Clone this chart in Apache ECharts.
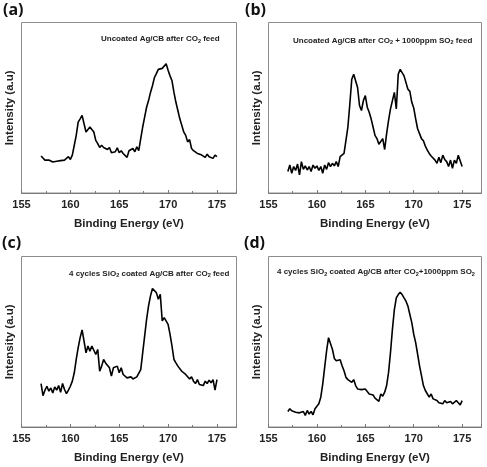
<!DOCTYPE html>
<html>
<head>
<meta charset="utf-8">
<script src="https://cdn.jsdelivr.net/npm/echarts@6/dist/echarts.min.js"></script>
<style>html,body{margin:0;padding:0;background:#fff;}#c{width:487px;height:467px;}</style>
</head>
<body>
<div id="c"></div>
<script>
// Binding energy (eV) sampled points
var energy = [157.0,157.2,157.4,157.6,157.8,158.0,158.2,158.4,158.6,158.8,159.0,159.2,159.4,159.6,159.8,160.0,160.2,160.4,160.6,160.8,161.0,161.2,161.4,161.6,161.8,162.0,162.2,162.4,162.6,162.8,163.0,163.2,163.4,163.6,163.8,164.0,164.2,164.4,164.6,164.8,165.0,165.2,165.4,165.6,165.8,166.0,166.2,166.4,166.6,166.8,167.0,167.2,167.4,167.6,167.8,168.0,168.2,168.4,168.6,168.8,169.0,169.2,169.4,169.6,169.8,170.0,170.2,170.4,170.6,170.8,171.0,171.2,171.4,171.6,171.8,172.0,172.2,172.4,172.6,172.8,173.0,173.2,173.4,173.6,173.8,174.0,174.2,174.4,174.6,174.8,175.0];

// (a) Uncoated Ag/CB after CO2 feed
var intensityA = [21.7,21.3,19.3,19.7,19.3,18.6,18.2,17.4,18.6,18.2,19.0,18.4,19.3,18.6,21.3,19.7,22.2,28.0,33.8,41.6,43.5,45.5,40.6,35.8,36.8,38.7,37.7,35.8,30.9,29.0,26.7,28.0,26.7,27.5,25.5,26.7,23.6,23.6,24.2,26.5,23.6,24.8,23.2,23.6,20.9,24.8,25.1,26.1,24.2,27.1,24.8,31.9,38.7,44.5,50.3,54.2,59.0,62.9,67.7,70.0,72.5,73.5,73.1,73.5,75.8,72.0,68.7,65.8,59.0,53.2,48.4,43.5,39.7,35.8,33.8,30.0,31.3,26.1,24.8,25.5,23.2,23.6,22.4,23.2,20.9,22.8,21.3,22.4,20.3,22.2,21.3];

// (b) Uncoated Ag/CB after CO2 + 1000ppm SO2 feed
var intensityB = [12.6,16.4,11.6,15.5,13.2,17.0,10.6,18.4,13.9,15.9,13.5,15.5,12.6,16.4,14.5,15.9,13.2,15.5,11.6,16.4,13.9,17.8,15.5,17.4,15.9,18.4,15.5,21.3,20.3,23.2,30.9,38.7,52.2,66.7,69.6,70.0,61.9,51.3,48.4,54.2,57.1,50.3,47.4,43.5,38.7,33.8,31.9,28.6,27.5,31.9,25.5,34.8,42.6,49.3,54.2,59.0,49.3,69.6,72.5,73.5,68.7,68.7,60.9,59.6,53.2,49.9,43.5,37.7,34.8,31.9,30.6,27.5,25.1,23.2,21.7,22.8,19.3,17.4,20.9,17.8,22.2,19.7,18.4,15.5,19.3,14.5,19.3,17.4,22.2,23.2,15.5];

// (c) 4 cycles SiO2 coated Ag/CB after CO2 feed
var intensityC = [25.5,18.4,21.6,23.9,21.0,22.9,20.0,23.5,21.6,24.3,20.4,25.5,22.0,19.6,21.6,23.9,26.9,31.8,39.6,46.5,52.4,56.9,50.4,43.5,47.5,44.5,47.5,46.5,42.5,45.5,32.7,35.7,39.6,37.6,36.7,34.7,29.8,34.7,33.7,35.7,31.8,34.7,30.8,29.8,28.8,27.8,29.4,28.2,27.8,29.4,28.8,33.7,43.5,53.3,63.1,71.0,76.9,81.2,80.8,78.8,74.9,77.8,62.2,64.1,63.1,60.2,54.3,47.5,39.6,37.6,35.7,34.7,32.7,33.7,30.8,29.8,28.2,29.4,26.9,25.5,27.8,24.9,25.9,24.3,26.9,25.5,27.5,25.9,27.8,21.6,27.8];

// (d) 4 cycles SiO2 coated Ag/CB after CO2+1000ppm SO2
var intensityD = [9.1,10.7,9.5,9.9,8.7,9.1,8.3,8.0,9.1,6.8,9.7,7.6,9.1,7.2,10.7,11.7,13.6,17.5,25.2,35.0,44.7,52.4,53.0,45.6,40.2,38.8,38.3,39.4,35.9,33.0,29.1,27.8,27.2,26.2,27.8,24.3,22.3,21.4,21.9,22.7,22.3,20.8,19.4,18.4,18.8,16.9,17.5,15.0,19.4,18.1,20.4,24.3,32.0,43.7,57.3,68.9,75.7,77.7,79.0,77.7,75.7,73.8,70.9,66.0,61.2,54.4,49.5,42.7,35.9,30.1,24.3,21.4,20.4,17.5,19.4,16.5,16.9,15.5,14.2,15.0,13.6,15.5,14.2,13.6,15.0,13.6,14.6,15.5,14.2,13.0,15.5];

var panelLetters = ['(a)', '(b)', '(c)', '(d)'];
var xTitle = 'Binding Energy (eV)';
var yTitle = 'Intensity (a.u)';
var xMin = 155, xMax = 177, xStep = 5;

var FONT = 'Liberation Sans, Arial, sans-serif';
var series = [intensityA, intensityB, intensityC, intensityD];

var grids = [
  {left: 21.5, top: 22.5, width: 215, height: 170.5},
  {left: 268.5, top: 22.5, width: 213, height: 170.5},
  {left: 21.5, top: 256.5, width: 215, height: 170.5},
  {left: 268.5, top: 256.5, width: 213, height: 170.5}
];

function pairs(arr) {
  return arr.map(function (v, i) { return [energy[i], v]; });
}

var option = {
  animation: false,
  backgroundColor: '#fff',
  grid: grids.map(function (g) {
    return Object.assign({show: true, borderColor: '#8c8c8c', borderWidth: 1, backgroundColor: 'transparent'}, g);
  }),
  xAxis: grids.map(function (g, i) {
    return {
      type: 'value', gridIndex: i, min: xMin, max: xMax, interval: xStep,
      name: xTitle, nameLocation: 'middle', nameGap: 25,
      nameTextStyle: {fontSize: 11.5, fontWeight: 'bold', fontFamily: FONT, color: '#222'},
      axisLine: {show: true, lineStyle: {color: '#7a7a7a', width: 1}},
      axisTick: {show: true, inside: true, length: 3, lineStyle: {color: '#7a7a7a'}},
      minorTick: {show: true, splitNumber: 2, length: 2, lineStyle: {color: '#7a7a7a'}},
      axisLabel: {fontSize: 11, fontWeight: 'bold', fontFamily: FONT, color: '#222', margin: 6, showMaxLabel: false},
      splitLine: {show: false}
    };
  }),
  yAxis: grids.map(function (g, i) {
    return {
      type: 'value', gridIndex: i, min: 0, max: 100,
      name: yTitle, nameLocation: 'middle', nameGap: 6,
      nameTextStyle: {fontSize: 11.5, fontWeight: 'bold', fontFamily: FONT, color: '#222'},
      axisLine: {show: false}, axisTick: {show: false}, axisLabel: {show: false}, splitLine: {show: false}
    };
  }),
  series: series.map(function (arr, i) {
    return {
      type: 'line', xAxisIndex: i, yAxisIndex: i, data: pairs(arr),
      showSymbol: false, symbol: 'none', smooth: false,
      lineStyle: {color: '#000', width: 1.6}
    };
  }),
  title: []
};

var rich = {
  n: {fontSize: 8, fontWeight: 'bold', fontFamily: FONT, color: '#222', lineHeight: 10},
  s: {fontSize: 5.5, fontWeight: 'bold', fontFamily: FONT, color: '#222', lineHeight: 6, verticalAlign: 'bottom'}
};
var notes = [
  {text: '{n|Uncoated Ag/CB after CO}{s|2}{n| feed}', left: 101, top: 34},
  {text: '{n|Uncoated Ag/CB after CO}{s|2}{n| + 1000ppm SO}{s|2}{n| feed}', left: 293, top: 35.5},
  {text: '{n|4 cycles SiO}{s|2}{n| coated Ag/CB after CO}{s|2}{n| feed}', left: 69, top: 268.5},
  {text: '{n|4 cycles SiO}{s|2}{n| coated Ag/CB after CO}{s|2}{n|+1000ppm SO}{s|2}', left: 277, top: 267}
];
notes.forEach(function (t) {
  option.title.push({text: t.text, left: t.left, top: t.top, padding: 0, textStyle: {rich: rich}});
});
var letterPos = [[3, 0], [245, 0], [2, 233], [244, 233]];
panelLetters.forEach(function (l, i) {
  option.title.push({text: l, left: letterPos[i][0], top: letterPos[i][1], padding: 0,
    textStyle: {fontSize: 16, fontWeight: 'bold', fontFamily: 'Open Sans, Liberation Sans, sans-serif', color: '#111', lineHeight: 20}});
});

var chart = echarts.init(document.getElementById('c'), null, {renderer: 'canvas'});
chart.setOption(option);
</script>
</body>
</html>
